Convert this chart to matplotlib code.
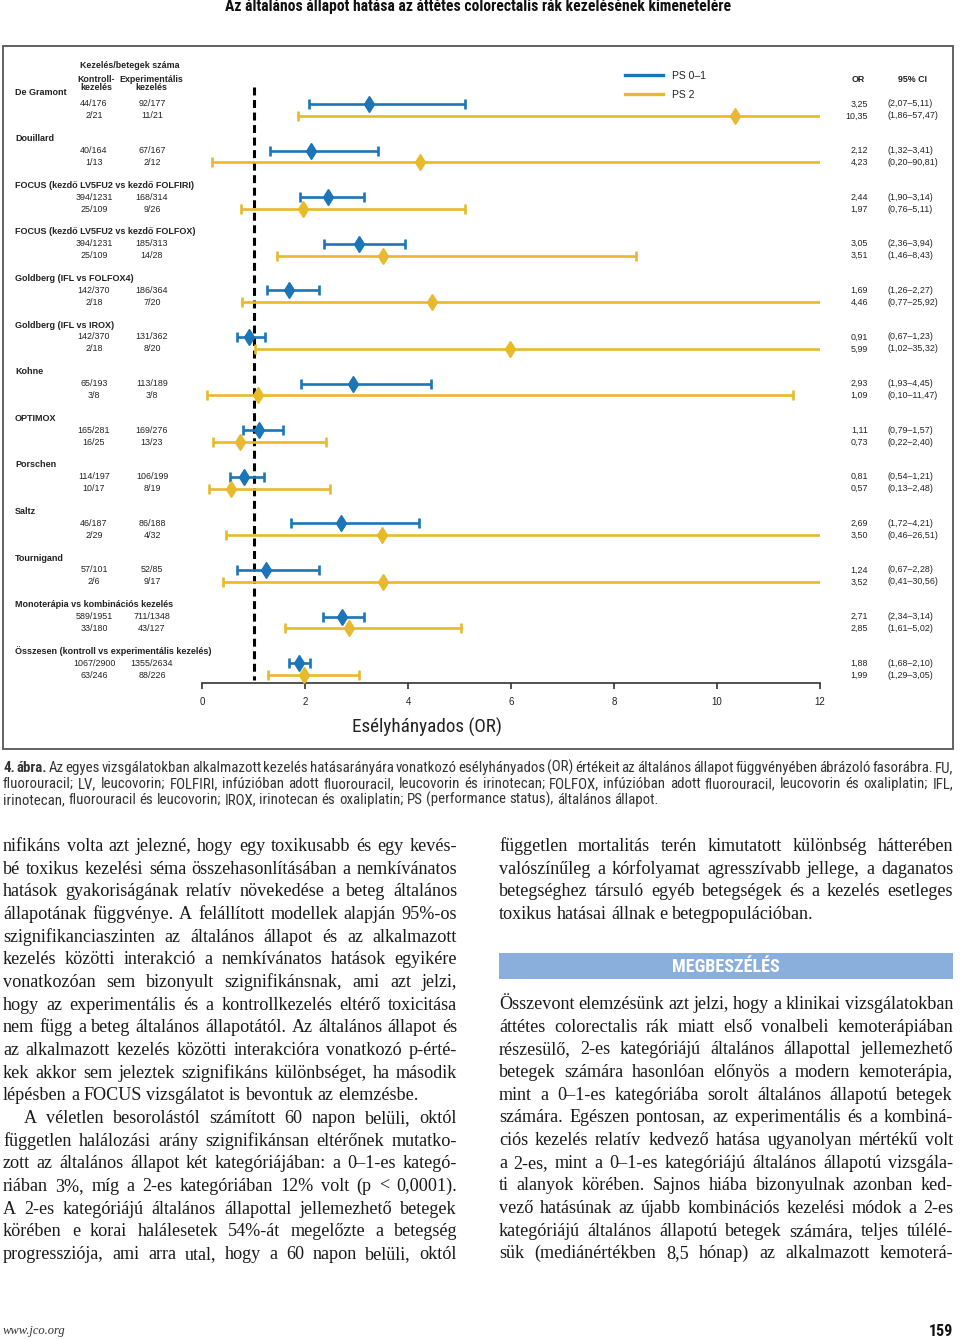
import matplotlib
matplotlib.use('Agg')
import matplotlib.pyplot as plt
from matplotlib.patches import Rectangle
from matplotlib.lines import Line2D
from matplotlib.transforms import blended_transform_factory

# Data
studies = ["De Gramont", "Douillard", "FOCUS (kezdő LV5FU2 vs kezdő FOLFIRI)",
           "FOCUS (kezdő LV5FU2 vs kezdő FOLFOX)", "Goldberg (IFL vs FOLFOX4)",
           "Goldberg (IFL vs IROX)", "Kohne", "OPTIMOX", "Porschen", "Saltz", "Tournigand",
           "Monoterápia vs kombinációs kezelés", "Összesen (kontroll vs experimentális kezelés)"]
ctrl_ps01 = ["44/176", "40/164", "394/1231", "394/1231", "142/370", "142/370", "65/193",
             "165/281", "114/197", "46/187", "57/101", "589/1951", "1067/2900"]
exp_ps01 = ["92/177", "67/167", "168/314", "185/313", "186/364", "131/362", "113/189",
            "169/276", "106/199", "86/188", "52/85", "711/1348", "1355/2634"]
ctrl_ps2 = ["2/21", "1/13", "25/109", "25/109", "2/18", "2/18", "3/8", "16/25", "10/17",
            "2/29", "2/6", "33/180", "63/246"]
exp_ps2 = ["11/21", "2/12", "9/26", "14/28", "7/20", "8/20", "3/8", "13/23", "8/19",
           "4/32", "9/17", "43/127", "88/226"]
or_ps01 = [3.25, 2.12, 2.44, 3.05, 1.69, 0.91, 2.93, 1.11, 0.81, 2.69, 1.24, 2.71, 1.88]
lo_ps01 = [2.07, 1.32, 1.90, 2.36, 1.26, 0.67, 1.93, 0.79, 0.54, 1.72, 0.67, 2.34, 1.68]
hi_ps01 = [5.11, 3.41, 3.14, 3.94, 2.27, 1.23, 4.45, 1.57, 1.21, 4.21, 2.28, 3.14, 2.10]
or_ps2 = [10.35, 4.23, 1.97, 3.51, 4.46, 5.99, 1.09, 0.73, 0.57, 3.50, 3.52, 2.85, 1.99]
lo_ps2 = [1.86, 0.20, 0.76, 1.46, 0.77, 1.02, 0.10, 0.22, 0.13, 0.46, 0.41, 1.61, 1.29]
hi_ps2 = [57.47, 90.81, 5.11, 8.43, 25.92, 35.32, 11.47, 2.40, 2.48, 26.51, 30.56, 5.02, 3.05]
series_labels = ["PS 0–1", "PS 2"]
x_ticks = [0, 2, 4, 6, 8, 10, 12]

title = "Az általános állapot hatása az áttétes colorectalis rák kezelésének kimenetelére"
caption_lines = [
    "4. ábra. Az egyes vizsgálatokban alkalmazott kezelés hatásarányára vonatkozó esélyhányados (OR) értékeit az általános állapot függvényében ábrázoló fasorábra. FU,",
    "fluorouracil; LV, leucovorin; FOLFIRI, infúzióban adott fluorouracil, leucovorin és irinotecan; FOLFOX, infúzióban adott fluorouracil, leucovorin és oxaliplatin; IFL,",
    "irinotecan, fluorouracil és leucovorin; IROX, irinotecan és oxaliplatin; PS (performance status), általános állapot.",
]
left_col = [
    "nifikáns volta azt jelezné, hogy egy toxikusabb és egy kevés-",
    "bé toxikus kezelési séma összehasonlításában a nemkívánatos",
    "hatások gyakoriságának relatív növekedése a beteg általános",
    "állapotának függvénye. A felállított modellek alapján 95%-os",
    "szignifikanciaszinten az általános állapot és az alkalmazott",
    "kezelés közötti interakció a nemkívánatos hatások egyikére",
    "vonatkozóan sem bizonyult szignifikánsnak, ami azt jelzi,",
    "hogy az experimentális és a kontrollkezelés eltérő toxicitása",
    "nem függ a beteg általános állapotától. Az általános állapot és",
    "az alkalmazott kezelés közötti interakcióra vonatkozó p-érté-",
    "kek akkor sem jeleztek szignifikáns különbséget, ha második",
    "lépésben a FOCUS vizsgálatot is bevontuk az elemzésbe.",
    "A véletlen besorolástól számított 60 napon belüli, októl",
    "független halálozási arány szignifikánsan eltérőnek mutatko-",
    "zott az általános állapot két kategóriájában: a 0–1-es kategó-",
    "riában 3%, míg a 2-es kategóriában 12% volt (p < 0,0001).",
    "A 2-es kategóriájú általános állapottal jellemezhető betegek",
    "körében e korai halálesetek 54%-át megelőzte a betegség",
    "progressziója, ami arra utal, hogy a 60 napon belüli, októl",
]
right_col_1 = [
    "független mortalitás terén kimutatott különbség hátterében",
    "valószínűleg a kórfolyamat agresszívabb jellege, a daganatos",
    "betegséghez társuló egyéb betegségek és a kezelés esetleges",
    "toxikus hatásai állnak e betegpopulációban.",
]
heading = "MEGBESZÉLÉS"
right_col_2 = [
    "Összevont elemzésünk azt jelzi, hogy a klinikai vizsgálatokban",
    "áttétes colorectalis rák miatt első vonalbeli kemoterápiában",
    "részesülő, 2-es kategóriájú általános állapottal jellemezhető",
    "betegek számára hasonlóan előnyös a modern kemoterápia,",
    "mint a 0–1-es kategóriába sorolt általános állapotú betegek",
    "számára. Egészen pontosan, az experimentális és a kombiná-",
    "ciós kezelés relatív kedvező hatása ugyanolyan mértékű volt",
    "a 2-es, mint a 0–1-es kategóriájú általános állapotú vizsgála-",
    "ti alanyok körében. Sajnos hiába bizonyulnak azonban ked-",
    "vező hatásúnak az újabb kombinációs kezelési módok a 2-es",
    "kategóriájú általános állapotú betegek számára, teljes túlélé-",
    "sük (mediánértékben 8,5 hónap) az alkalmazott kemoterá-",
]

BLUE = '#1b75b9'
YELLOW = '#e9b92c'
NARROW = dict(family=['Liberation Sans Narrow', 'Roboto Condensed', 'DejaVu Sans'],
              fontstretch='condensed')
SANS = ['Liberation Sans', 'DejaVu Sans']
SERIF = ['Liberation Serif', 'DejaVu Serif']
TXT = '#222222'

fig = plt.figure(figsize=(9.6, 13.4), dpi=100)
page = fig.add_axes([0, 0, 1, 1])
page.set_xlim(0, 960)
page.set_ylim(1340, 0)
page.axis('off')
renderer = fig.canvas.get_renderer()


def text_width(s, **kw):
    t = page.text(0, 0, s, **kw)
    w = t.get_window_extent(renderer).width
    t.remove()
    return w


def fit_size(s, width, **kw):
    # font size that makes s about `width` pixels wide
    return 10 * width / text_width(s, fontsize=10, **kw)


def line_fit(line, avail, min_gap=0.8, **kw):
    # largest font size at which a justified line keeps gaps >= min_gap spaces
    words = line.split()
    w = sum(text_width(x, fontsize=10, **kw) for x in words)
    sp = text_width('a a', fontsize=10, **kw) - text_width('aa', fontsize=10, **kw)
    return 10 * avail / (w + min_gap * sp * (len(words) - 1))


def put_line(line, x0, x1, y, justify=True, bold_words=0, indent=0, **kw):
    words = line.split()
    avail = x1 - x0 - indent
    props = []
    for k in range(len(words)):
        p = dict(kw)
        if k < bold_words:
            p['fontweight'] = 'bold'
        props.append(p)
    widths = [text_width(w, **p) for w, p in zip(words, props)]
    gap = text_width('a a', **kw) - text_width('aa', **kw)
    if justify and len(words) > 1:
        gap = (avail - sum(widths)) / (len(words) - 1)
    x = x0 + indent
    for w, wd, p in zip(words, widths, props):
        page.text(x, y, w, va='baseline', ha='left', **p)
        x += wd + gap


# Title
page.text(478, 7, title, ha='center', va='center', fontweight='bold', color='#111111',
          fontsize=fit_size(title, 502, fontweight='bold', **NARROW), **NARROW)

# Frame around figure
page.add_patch(Rectangle((3, 46), 950, 703, fill=False, ec='#555555', lw=1.3))

# Forest plot axes
n = len(studies)
ax = fig.add_axes([202 / 960, 1 - 683 / 1340, 618 / 960, (683 - 80) / 1340])
ax.patch.set_alpha(0)
ax.set_xlim(0, 12)
off = [0.255, 0.51]
ax.set_ylim(n - 1 + 0.68, -0.26)

groups = [(or_ps01, lo_ps01, hi_ps01, BLUE), (or_ps2, lo_ps2, hi_ps2, YELLOW)]
handles = []
for s, (orv, lo, hi, col) in enumerate(groups):
    for i in range(n):
        y = i + off[s]
        ax.plot([lo[i], hi[i]], [y, y], color=col, lw=1.9, solid_capstyle='butt', zorder=3)
        ax.plot([lo[i], hi[i]], [y, y], ls='none', marker='|', ms=6.5, mew=1.9, color=col, zorder=3)
        ax.plot(orv[i], y, marker='d', ms=8, color=col, mec=col, zorder=4)
    handles.append(Line2D([], [], color=col, lw=2.4, label=series_labels[s]))

ax.plot([1, 1], [-0.11, n - 1 + 0.62], color='black', lw=2.2, dashes=(2.6, 1.5), zorder=2)

for sp in ['top', 'right', 'left']:
    ax.spines[sp].set_visible(False)
ax.spines['bottom'].set_color('#333333')
ax.spines['bottom'].set_linewidth(1.2)
ax.set_yticks([])
ax.set_xticks(x_ticks)
ax.set_xticklabels([str(t) for t in x_ticks], family=SANS, fontsize=7, color=TXT)
ax.tick_params(axis='x', direction='out', length=4, width=1.2, color='#333333', pad=6)

leg = ax.legend(handles=handles, loc='upper left', bbox_to_anchor=(625 / 960, 1 - 71 / 1340),
                bbox_transform=fig.transFigure, frameon=False, handlelength=3.6,
                handletextpad=0.9, labelspacing=0.85, borderpad=0, borderaxespad=0,
                prop={'family': SANS, 'size': 7.5})
for t in leg.get_texts():
    t.set_color(TXT)

xlab = "Esélyhányados (OR)"
page.text(427, 727, xlab, ha='center', va='center', color=TXT,
          fontsize=fit_size(xlab, 150, **NARROW), **NARROW)

# Table texts (x in page pixels, y in data units)
tr = blended_transform_factory(page.transData, ax.transData)
small = dict(family=SANS, fontsize=6.4, color=TXT, clip_on=False)
page.text(130, 65, "Kezelés/betegek száma", ha='center', va='center', fontweight='bold', **small)
page.text(96, 83.5, "Kontroll-\nkezelés", ha='center', va='center', fontweight='bold',
          linespacing=0.95, **small)
page.text(151, 83.5, "Experimentális\nkezelés", ha='center', va='center', fontweight='bold',
          linespacing=0.95, **small)
page.text(858, 80, "OR", ha='center', va='center', fontweight='bold', **small)
page.text(912, 80, "95% CI", ha='center', va='center', fontweight='bold', **small)


def fmt(v):
    return f"{v:.2f}".replace('.', ',')


for i in range(n):
    ax.text(15, i, studies[i], transform=tr, ha='left', va='center', fontweight='bold',
            family=SANS, fontsize=6.5, color=TXT, clip_on=False)
    rows = [(ctrl_ps01[i], exp_ps01[i], or_ps01[i], lo_ps01[i], hi_ps01[i]),
            (ctrl_ps2[i], exp_ps2[i], or_ps2[i], lo_ps2[i], hi_ps2[i])]
    for s, (c, e, o, l, h) in enumerate(rows):
        y = i + off[s]
        ax.text(94, y, c, transform=tr, ha='center', va='center', **small)
        ax.text(152, y, e, transform=tr, ha='center', va='center', **small)
        ax.text(868, y, fmt(o), transform=tr, ha='right', va='center', **small)
        ax.text(887, y, f"({fmt(l)}–{fmt(h)})", transform=tr, ha='left', va='center', **small)

# Caption
cap_size = fit_size(caption_lines[-1], 649, **NARROW)
cap = dict(fontsize=cap_size, color='#333333', **NARROW)
for k, line in enumerate(caption_lines):
    put_line(line, 3, 953, 772 + k * 16, justify=(k < len(caption_lines) - 1),
             bold_words=2 if k == 0 else 0, **cap)

# Body text: one size for all lines, small enough that every justified line fits
justified = [l for k, l in enumerate(left_col) if k != 11] + right_col_1[:-1] + right_col_2
body_size = min(line_fit(l, 454 - (21 if l == left_col[12] else 0), family=SERIF)
                for l in justified)
body = dict(family=SERIF, fontsize=body_size, color='#1a1a1a')
step = 22.67
for k, line in enumerate(left_col):
    put_line(line, 3, 457, 851 + k * step, justify=(k != 11),
             indent=21 if k == 12 else 0, **body)
for k, line in enumerate(right_col_1):
    put_line(line, 499, 953, 851 + k * step, justify=(k < len(right_col_1) - 1), **body)
page.add_patch(Rectangle((499, 953), 454, 26, color='#8aafdc', lw=0))
page.text(726, 966.5, heading, ha='center', va='center', fontweight='bold', color='white',
          fontsize=fit_size(heading, 107, fontweight='bold', **NARROW), **NARROW)
for k, line in enumerate(right_col_2):
    put_line(line, 499, 953, 1009 + k * step, justify=True, **body)

# Footer
page.text(3, 1331, "www.jco.org", ha='left', va='center', family=SERIF, style='italic',
          fontsize=9, color='#333333')
page.text(953, 1331, "159", ha='right', va='center', fontweight='bold', color='#111111',
          fontsize=11.5, **NARROW)

fig.savefig('out.png', dpi=100)
plt.close(fig)
